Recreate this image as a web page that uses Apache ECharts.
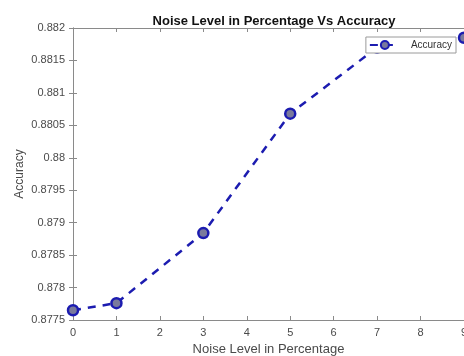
<!DOCTYPE html>
<html>
<head>
<meta charset="utf-8">
<script src="https://cdn.jsdelivr.net/npm/echarts@6/dist/echarts.min.js"></script>
<style>
  html, body { margin: 0; padding: 0; background: #fff; }
  #chart { width: 464px; height: 356px; }
</style>
</head>
<body>
<div id="chart"></div>
<script>
// Noise level (%) and the accuracy measured at each level
const noiseLevels = [0, 1, 3, 5, 7, 9];
const accuracy = [0.87765, 0.87776, 0.87884, 0.88068, 0.88170, 0.88185];
const seriesName = 'Accuracy';

const axisColor = '#8a8a8a';
const labelColor = '#4a4a4a';
const font = 'Liberation Sans, Arial, sans-serif';

const points = noiseLevels.map((x, i) => [x, accuracy[i]]);

const chart = echarts.init(document.getElementById('chart'));
chart.setOption({
  animation: false,
  backgroundColor: '#ffffff',
  title: {
    text: 'Noise Level in Percentage Vs Accuracy',
    left: 269, top: 10, textAlign: 'center',
    textStyle: { fontFamily: font, fontSize: 13, fontWeight: 'bold', color: '#111' }
  },
  legend: {
    data: [seriesName],
    right: 8, top: 37,
    padding: [3, 4, 3, 3],
    itemWidth: 30, itemHeight: 10, itemGap: 4,
    borderColor: '#9a9a9a', borderWidth: 1, borderRadius: 0,
    backgroundColor: '#fff',
    textStyle: { fontFamily: font, fontSize: 10, color: '#333', padding: [0, 0, 0, 6] }
  },
  grid: { left: 73, right: 0, top: 28, bottom: 36, containLabel: false, outerBoundsMode: 'none' },
  xAxis: [{
    type: 'value', min: 0, max: 9, interval: 1,
    name: 'Noise Level in Percentage', nameLocation: 'middle', nameGap: 23,
    nameMoveOverlap: false,
    nameTextStyle: { fontFamily: font, fontSize: 13, color: labelColor },
    axisLine: { show: true, onZero: false, lineStyle: { color: axisColor } },
    axisTick: { show: true, inside: true, length: 4, lineStyle: { color: axisColor } },
    axisLabel: { fontFamily: font, fontSize: 11, color: labelColor, margin: 7 },
    splitLine: { show: false }
  }, {
    type: 'value', position: 'top', min: 0, max: 9, interval: 1,
    axisLine: { show: true, lineStyle: { color: axisColor } },
    axisTick: { show: true, inside: true, length: 4, lineStyle: { color: axisColor } },
    axisLabel: { show: false }, splitLine: { show: false }
  }],
  yAxis: [{
    type: 'value', min: 0.8775, max: 0.882, interval: 0.0005,
    name: 'Accuracy', nameLocation: 'middle', nameGap: 47, nameRotate: 90,
    nameMoveOverlap: false,
    nameTextStyle: { fontFamily: font, fontSize: 12, color: labelColor },
    axisLine: { show: true, onZero: false, lineStyle: { color: axisColor } },
    axisTick: { show: true, inside: true, length: 4, lineStyle: { color: axisColor } },
    axisLabel: {
      fontFamily: font, fontSize: 11, color: labelColor, margin: 8,
      formatter: v => String(parseFloat(v.toFixed(4)))
    },
    splitLine: { show: false }
  }, {
    type: 'value', position: 'right', min: 0.8775, max: 0.882, interval: 0.0005,
    axisLine: { show: true, lineStyle: { color: axisColor } },
    axisTick: { show: true, inside: true, length: 4, lineStyle: { color: axisColor } },
    axisLabel: { show: false }, splitLine: { show: false }
  }],
  series: [{
    name: seriesName,
    type: 'line',
    data: points,
    xAxisIndex: 0, yAxisIndex: 0,
    symbol: 'circle', symbolSize: 10,
    lineStyle: { color: '#1c1cb0', width: 2.5, type: [8, 7] },
    itemStyle: { color: '#7a7a9c', borderColor: '#1c1cb0', borderWidth: 2.5 },
    clip: false
  }]
});
</script>
</body>
</html>
